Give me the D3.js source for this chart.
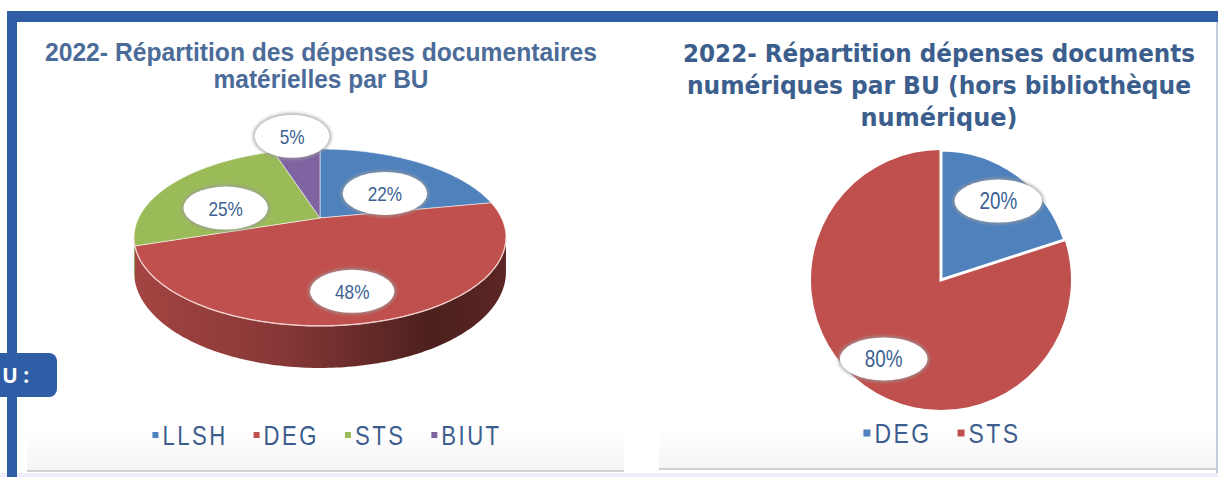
<!DOCTYPE html>
<html lang="fr">
<head>
<meta charset="utf-8">
<title>2022 - Répartition des dépenses par BU</title>
<script src="https://cdn.jsdelivr.net/npm/d3@7"></script>
<style>
  body { margin: 0; background: #fff; }
  svg { display: block; }
</style>
</head>
<body>
<script>

// données
var bu_materiel = ["LLSH", "DEG", "STS", "BIUT"];
var part_materiel = [22, 48, 25, 5];
var bu_numerique = ["DEG", "STS"];
var part_numerique = [20, 80];
var titre_materiel = ["2022- Répartition des dépenses documentaires", "matérielles par BU"];
var titre_numerique = ["2022- Répartition dépenses documents", "numériques par BU (hors bibliothèque", "numérique)"];

var w = 1218, h = 477;
var bleu = "#2f5ea6";
var palette = ["#4f81bd", "#c0504d", "#9bbb59", "#8064a2"];
var police = "'Liberation Sans', Arial, sans-serif";
var serre = 0.82; // pas de police étroite installée : on compresse en x

var svg = d3.select("body").append("svg").attr("width", w).attr("height", h);
var defs = svg.append("defs");
defs.append("filter").attr("id", "flou").attr("x", "-20%").attr("y", "-30%").attr("width", "140%").attr("height", "160%")
    .append("feGaussianBlur").attr("stdDeviation", 1.6);

// texte "étroit" : scale(serre,1) autour de (x,y)
function texteEtroit(g, x, y, txt, taille, couleur, ancre, espace) {
    return g.append("text")
        .attr("transform", "translate(" + x + "," + y + ") scale(" + serre + ",1)")
        .attr("text-anchor", ancre || "start")
        .attr("fill", couleur)
        .style("font", taille + "px " + police)
        .style("letter-spacing", (espace || 0) + "px")
        .text(txt);
}

// --- cadre de la page ---
svg.append("rect").attr("x", 0).attr("y", 473).attr("width", w).attr("height", 4).attr("fill", "#efeef8");

function panneau(x, x2, yb) {
    var g = svg.append("g");
    var grad = defs.append("linearGradient").attr("id", "pan" + x).attr("x1", 0).attr("y1", 0).attr("x2", 0).attr("y2", 1);
    grad.append("stop").attr("offset", 0).attr("stop-color", "#fff");
    grad.append("stop").attr("offset", 1).attr("stop-color", "#f5f5f5");
    g.append("rect").attr("x", x).attr("y", yb - 40).attr("width", x2 - x).attr("height", 40).attr("fill", "url(#pan" + x + ")");
    g.append("rect").attr("x", x).attr("y", yb).attr("width", x2 - x).attr("height", 2).attr("fill", "#d2d2d2");
}
panneau(27, 624, 470);
panneau(659, 1216, 468);
svg.append("rect").attr("x", 1216).attr("y", 22).attr("width", 2).attr("height", 451).attr("fill", "#c3cbdd");

svg.append("rect").attr("x", 7).attr("y", 11).attr("width", w - 7).attr("height", 11).attr("fill", bleu);
svg.append("rect").attr("x", 7).attr("y", 11).attr("width", 10).attr("height", h - 11).attr("fill", bleu);
svg.append("rect").attr("x", -12).attr("y", 353).attr("width", 69).attr("height", 44).attr("rx", 8).attr("fill", bleu);
svg.append("text").attr("x", 2).attr("y", 383).attr("fill", "#fff")
    .style("font", "bold 21px 'Open Sans', sans-serif").text("U :");

// --- titres ---
function titre(lignes, cx, y0, pas, font, couleur, largeurs) {
    svg.append("g").selectAll("text").data(lignes).enter().append("text")
        .attr("x", cx)
        .attr("y", function(d, i) { return y0 + i * pas; })
        .attr("text-anchor", "middle")
        .attr("fill", couleur)
        .style("font", font)
        .attr("textLength", function(d, i) { return largeurs[i]; })
        .attr("lengthAdjust", "spacingAndGlyphs")
        .text(function(d) { return d; });
}
titre(titre_materiel, 321, 61, 27, "bold 25px " + police, "#4b6b98", [552, 215]);
titre(titre_numerique, 939, 62, 32, "bold 24px 'DejaVu Sans', Verdana, sans-serif", "#3b5e8c", [512, 504, 157]);

// --- bulles d'étiquettes ---
function bulle(g, x, y, texte, taille) {
    var t = texteEtroit(g, x, y + taille * 0.36, texte, taille, "#3b5f92", "middle");
    var tw = t.node().getComputedTextLength() * serre;
    var rx = tw / 2 + 25, ry = 21.5;
    g.insert("ellipse", "text").attr("cx", x).attr("cy", y).attr("rx", rx + 2).attr("ry", ry + 2)
        .attr("fill", "#9a9a9a").attr("opacity", 0.7).attr("filter", "url(#flou)");
    g.insert("ellipse", "text").attr("cx", x).attr("cy", y).attr("rx", rx).attr("ry", ry).attr("fill", "#fff");
}

// --- camembert 3D (projection en perspective d'un disque) ---
var p3 = {cx: 320, y0: -164.6, A: 181.4, B: 382.6, C: 32.8, rho: 0.22};
function proj(a, k, niveau) {
    var den = 1 + p3.rho * k * Math.cos(a);
    return [p3.cx + k * p3.A * Math.sin(a) / den, p3.y0 + (p3.B + p3.C * niveau) / den];
}
function arcPts(a0, a1, niveau) {
    var n = Math.max(2, Math.ceil((a1 - a0) * 60));
    return d3.range(n + 1).map(function(i) { return proj(a0 + (a1 - a0) * i / n, 1, niveau); });
}
var line = d3.line();
var pie3 = d3.pie().sort(null)(part_materiel);
var g3 = svg.append("g");
var visA = Math.acos(-p3.rho), visB = 2 * Math.PI - visA;
var xs = [proj(visB, 1, 0)[0], proj(visA, 1, 0)[0]];  // gauche, droite

pie3.forEach(function(d, i) {
    var s = Math.max(d.startAngle, visA), e = Math.min(d.endAngle, visB);
    if (s >= e) return;
    var c = d3.color(palette[i]);
    var gr = defs.append("linearGradient").attr("id", "cote" + i).attr("gradientUnits", "userSpaceOnUse")
        .attr("x1", xs[0]).attr("x2", xs[1]).attr("y1", 0).attr("y2", 0);
    [[0, 0.45], [0.4, 1.0], [0.8, 2.6], [1, 2.1]].forEach(function(st) {
        gr.append("stop").attr("offset", st[0]).attr("stop-color", c.darker(st[1]).formatHex());
    });
    var pts = arcPts(s, e, 0).concat(arcPts(s, e, 1).reverse());
    g3.append("path").attr("d", line(pts) + "Z").attr("fill", "url(#cote" + i + ")");
});

var apex = proj(0, 0, 0);
pie3.forEach(function(d, i) {
    var pts = [apex].concat(arcPts(d.startAngle, d.endAngle, 0));
    g3.append("path").attr("d", line(pts) + "Z").attr("fill", palette[i])
        .attr("stroke", "#fff").attr("stroke-opacity", 0.55).attr("stroke-width", 1);
});
g3.append("path").attr("d", line(arcPts(visA, visB, 0)))
    .attr("fill", "none").attr("stroke", "#f3cfcd").attr("stroke-width", 1.3);

pie3.forEach(function(d, i) {
    var mid = (d.startAngle + d.endAngle) / 2;
    var dehors = (d.endAngle - d.startAngle) < 0.1 * 2 * Math.PI;
    var p = dehors ? proj(mid, 1.25, 0) : proj(mid, 0.62, 0.4);
    bulle(g3, p[0], p[1], d.data + "%", 21);
});

// --- camembert plat ---
var cx2 = 941, cy2 = 280, r2 = 130;
var pie2 = d3.pie().sort(null)(part_numerique);
var arc2 = d3.arc().innerRadius(0).outerRadius(r2);
var arcLab = d3.arc().innerRadius(r2 * 0.75).outerRadius(r2 * 0.75);
var g2 = svg.append("g").attr("transform", "translate(" + cx2 + "," + cy2 + ")");
g2.selectAll("path").data(pie2.slice().reverse()).enter().append("path")
    .attr("d", arc2)
    .attr("fill", function(d) { return palette[d.index]; })
    .attr("stroke", function(d) { return d.index === 0 ? "#fff" : "none"; })
    .attr("stroke-width", 3)
    .attr("stroke-linejoin", "miter");
pie2.forEach(function(d) {
    var c = arcLab.centroid(d);
    bulle(g2, c[0], c[1], d.data + "%", 23);
});

// --- légendes ---
function legende(noms, cx, y, taille, carre) {
    var g = svg.append("g");
    var items = noms.map(function(n, i) {
        var it = g.append("g");
        it.append("rect").attr("width", carre).attr("height", carre).attr("y", -carre / 2)
            .attr("fill", palette[i]);
        var t = texteEtroit(it, carre + 4, taille * 0.36, n, taille, "#3c5d8e", "start", 3);
        return {g: it, w: carre + 4 + t.node().getComputedTextLength() * serre};
    });
    var gap = 26;
    var total = d3.sum(items, function(d) { return d.w; }) + gap * (items.length - 1);
    var x = cx - total / 2;
    items.forEach(function(it) {
        it.g.attr("transform", "translate(" + x + "," + y + ")");
        x += it.w + gap;
    });
}
legende(bu_materiel, 327, 435, 27, 6);
legende(bu_numerique, 942, 433, 28, 7);

</script>
</body>
</html>
